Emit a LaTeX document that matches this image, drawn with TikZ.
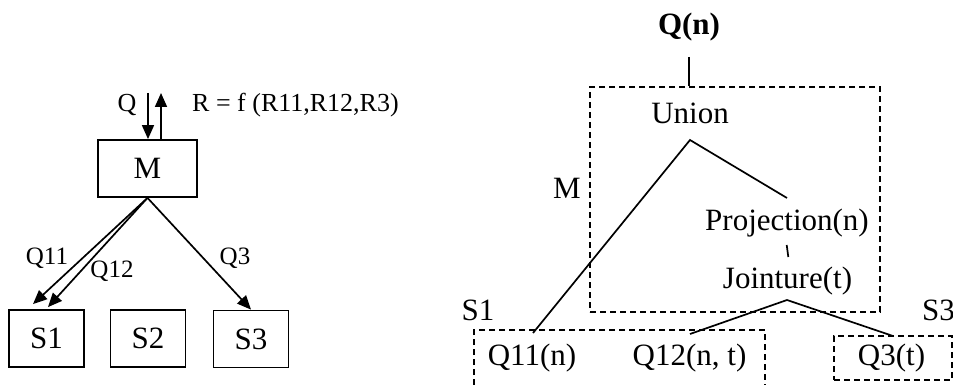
\documentclass[tikz,border=0pt]{standalone}
\usepackage{fontspec}
\setmainfont{Liberation Serif}
\usetikzlibrary{arrows.meta,calc}
\begin{document}
\begin{tikzpicture}[x=1pt,y=-1pt,
  big/.style={font=\fontsize{31}{36}\selectfont, inner sep=0pt, anchor=base},
  small/.style={font=\fontsize{25}{30}\selectfont, inner sep=0pt, anchor=base},
  sitebox/.style={draw, line width=1.8pt, minimum width=75pt, minimum height=57pt,
    inner sep=0pt, font=\fontsize{31}{36}\selectfont},
  arr/.style={line width=1.7pt, -{Triangle[length=14pt,width=12pt]}},
  edge/.style={line width=1.7pt},
  dbox/.style={draw, line width=1.5pt, dash pattern=on 6pt off 4pt},
  dline/.style={line width=1.5pt, dash pattern=on 6pt off 4pt}]
\useasboundingbox (0,0) rectangle (953,385);

% ---------- left: mediator and sources ----------
\node[sitebox, minimum width=99pt] (M) at (147.5,168.5) {M};
\node[sitebox] (S1) at (46.5,338.5) {S1};
\node[sitebox] (S2) at (148,338.5) {S2};
\node[sitebox] (S3) at (251,339) {S3};

\coordinate (qin) at (148,93);
\coordinate (rout) at (161,93);
\draw[arr] (qin) -- (qin |- M.north);
\draw[arr] (rout |- M.north) -- (rout);
\node[small, font=\fontsize{26}{30}\selectfont] (qlab) at (127,112) {Q};
\node[small, font=\fontsize{26}{30}\selectfont, anchor=base west] (rlab) at (192,112) {R = f (R11,R12,R3)};

\draw[arr] (M.south) -- ($(S1.north)+(-13.5,-5)$);
\draw[arr] (M.south) -- ($(S1.north)+(1.5,-2)$);
\draw[arr] (M.south) -- (S3.north);
\node[small] (q11lab) at (47,264) {Q11};
\node[small] (q12lab) at (112,277) {Q12};
\node[small] (q3lab) at (235,264) {Q3};

% ---------- right: query plan ----------
\node[big, font=\fontsize{31}{36}\selectfont\bfseries] (qn) at (689,35) {Q(n)};
\node[dbox, minimum width=290pt, minimum height=225pt] (Mbox) at (735,199.5) {};
\node[dbox, minimum width=118pt, minimum height=44pt] (S3box) at (893,358) {};
\draw[dline] (474,395) -- (474,330) -- (765,330) -- (765,395);

\node[big] (union) at (690,124) {Union};
\node[big] (mlab) at (567,198) {M};
\node[big] (proj) at (787,230) {Projection(n)};
\node[big] (joint) at (787.5,288) {Jointure(t)};
\node[big] (s1lab) at (478,320) {S1};
\node[big] (s3lab) at (938.5,320) {S3};
\node[big] (q11) at (532,365) {Q11(n)};
\node[big] (q12) at (689.5,365) {Q12(n, t)};
\node[big] (q3) at (891.5,365) {Q3(t)};

\coordinate (qstem) at (689,57);
\coordinate (uapex) at (690,140);
\coordinate (q11top) at (533,333);
\coordinate (projtop) at (787,198);
\coordinate (projbot) at (786.7,245);
\coordinate (jointop) at (788.3,257);
\coordinate (japex) at (787,300);
\coordinate (q12top) at (690,334);
\coordinate (q3top) at (893,336);

\draw[edge] (qstem) -- (qstem |- Mbox.north);
\draw[edge] (q11top) -- (uapex) -- (projtop);
\draw[edge] (projbot) -- (jointop);
\draw[edge] (q12top) -- (japex) -- (q3top);
\end{tikzpicture}
\end{document}
